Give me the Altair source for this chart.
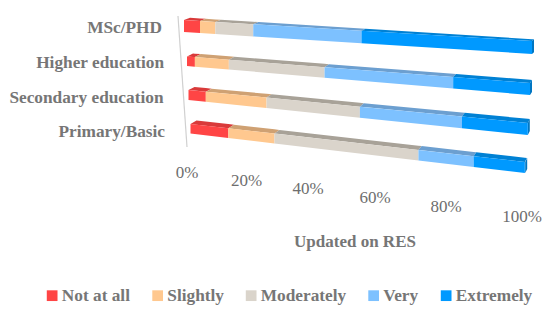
import altair as alt
import pandas as pd

rows = ["MSc/PHD", "Higher education", "Secondary education", "Primary/Basic"]
levels = ["Not at all", "Slightly", "Moderately", "Very", "Extremely"]
front_colors = ["#FF4545", "#FFC88F", "#DAD4CB", "#7DC1FF", "#0099FF"]
top_colors = ["#D93A3A", "#CFA173", "#A8A298", "#6C9FD0", "#0081D4"]
shares = [
    [4.6, 4.4, 10.9, 31.1, 49.0],
    [2.3, 9.9, 27.9, 37.5, 22.4],
    [5.1, 17.9, 27.5, 30.1, 19.4],
    [11.3, 13.8, 43.0, 16.5, 15.3],
]
ticks = [0, 20, 40, 60, 80, 100]

# projection of the tilted 3D plot
left = [184, 187, 188.5, 190.5]
right = [532, 530, 527.8, 525.2]
top_l = [20, 56.5, 90, 124]
top_r = [41, 83, 123, 162]
bot_l = [32, 66, 100, 133.5]
bot_r = [54, 95, 135, 173]
rise_l = [2.2, 3, 3, 3.5]
rise_r = [1.7, 3, 4, 4]
tick_xy = [(187, 172.7), (246.5, 180.7), (308, 189), (375, 197.7), (446, 206.7), (522, 217)]
row_label_xy = [(162, 28), (164, 63), (163.5, 98), (165, 132)]


def project(r, p):
    f = p / 100
    return (
        left[r] + (right[r] - left[r]) * f,
        top_l[r] + (top_r[r] - top_l[r]) * f,
        bot_l[r] + (bot_r[r] - bot_l[r]) * f,
    )


def depth(r, p):
    f = p / 100
    return 6 - 4 * f, rise_l[r] + (rise_r[r] - rise_l[r]) * f


front, top, side = [], [], []
for r, row in enumerate(rows):
    c = 0
    for l, share in enumerate(shares[r]):
        a, b = c, c + share
        c = b
        x0, t0, b0 = project(r, a)
        x1, t1, b1 = project(r, b)
        sid = f"s{r}_{l}"
        front += [
            dict(seg=sid, level=levels[l], x=x0, y=t0, y2=b0),
            dict(seg=sid, level=levels[l], x=x1, y=t1, y2=b1),
        ]
        d0, e0 = depth(r, a)
        d1, e1 = depth(r, b)
        slope = (t1 - t0) / (x1 - x0)
        top += [
            dict(seg=sid, level=levels[l], x=x0, y=t0, y2=t0),
            dict(seg=sid, level=levels[l], x=x0 + d0, y=t0 - e0, y2=t0 + slope * d0),
            dict(seg=sid, level=levels[l], x=x1, y=t1 - e1 - d1 * slope, y2=t1),
            dict(seg=sid, level=levels[l], x=x1 + d1, y=t1 - e1, y2=t1 - e1),
        ]
    x1, t1, b1 = project(r, 100)
    d1, e1 = depth(r, 100)
    side += [
        dict(seg=f"r{r}", x=x1, y=t1, y2=b1),
        dict(seg=f"r{r}", x=x1 + d1, y=t1 - e1, y2=b1 - e1),
    ]

sx = alt.Scale(domain=[8, 542], range=[0, 534])
sy = alt.Scale(domain=[8, 305], range=[0, 297])
X = alt.X("x:Q", scale=sx, axis=None)
Y = alt.Y("y:Q", scale=sy, axis=None)

axis_line = (
    alt.Chart(pd.DataFrame({"x": [178], "x2": [187], "y": [16], "y2": [147]}))
    .mark_rule(color="#D0D0D0", strokeWidth=1.2)
    .encode(X, Y, x2="x2:Q", y2="y2:Q")
)

top_layer = (
    alt.Chart(pd.DataFrame(top))
    .mark_area(orient="vertical")
    .encode(
        X, Y, y2="y2:Q", detail="seg:N",
        color=alt.Color("level:N", scale=alt.Scale(domain=levels, range=top_colors), legend=None),
    )
)
side_layer = (
    alt.Chart(pd.DataFrame(side))
    .mark_area(orient="vertical", color="#0076C2")
    .encode(X, Y, y2="y2:Q", detail="seg:N")
)
front_layer = (
    alt.Chart(pd.DataFrame(front))
    .mark_area(orient="vertical")
    .encode(
        X, Y, y2="y2:Q", detail="seg:N",
        color=alt.Color(
            "level:N",
            scale=alt.Scale(domain=levels, range=front_colors),
            sort=levels,
            title=None,
            legend=alt.Legend(
                orient="none", legendX=35.5, legendY=279, direction="horizontal", columns=5,
                symbolType="square", symbolSize=115, symbolStrokeWidth=0,
                labelFont="Liberation Serif", labelFontWeight="bold", labelFontSize=17.3,
                labelColor="#767676", columnPadding=18.5, labelOffset=1, labelLimit=200,
            ),
        ),
    )
)

FONT = dict(font="Liberation Serif", fontWeight="bold", color="#767676")
row_labels = (
    alt.Chart(pd.DataFrame({"t": rows, "x": [p[0] for p in row_label_xy], "y": [p[1] for p in row_label_xy]}))
    .mark_text(align="right", baseline="middle", fontSize=17.3, **FONT)
    .encode(X, Y, text="t:N")
)
tick_labels = (
    alt.Chart(pd.DataFrame({"t": [f"{v}%" for v in ticks], "x": [p[0] for p in tick_xy], "y": [p[1] for p in tick_xy]}))
    .mark_text(align="center", baseline="middle", fontSize=17, font="Liberation Serif", color="#6E6E6E")
    .encode(X, Y, text="t:N")
)
title = (
    alt.Chart(pd.DataFrame({"t": ["Updated on RES"], "x": [355], "y": [242]}))
    .mark_text(align="center", baseline="middle", fontSize=17, **FONT)
    .encode(X, Y, text="t:N")
)

chart = (
    alt.layer(axis_line, top_layer, side_layer, front_layer, row_labels, tick_labels, title)
    .resolve_scale(color="independent")
    .properties(width=534, height=297, padding=0, autosize=alt.AutoSizeParams(type="none"), background="white")
    .configure_view(stroke=None)
)
chart.save("out.html", embed_options={"renderer": "svg", "actions": False})
